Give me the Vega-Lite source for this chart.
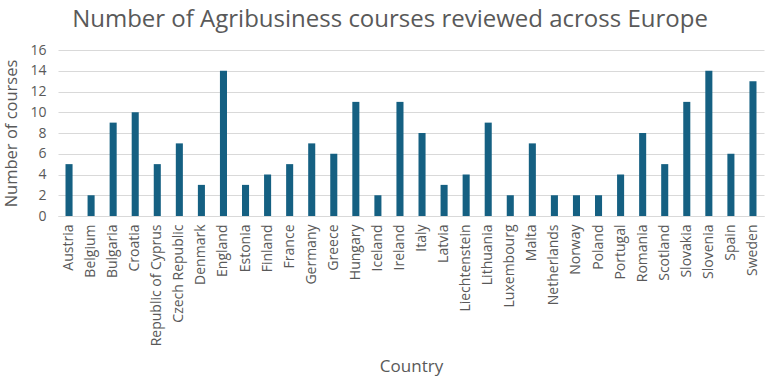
{
  "$schema": "https://vega.github.io/schema/vega-lite/v6.json",
  "width": 706,
  "height": 166,
  "autosize": {"type": "none"},
  "padding": {"left": 58, "top": 50, "right": 3, "bottom": 161},
  "background": "white",
  "title": {
    "text": "Number of Agribusiness courses reviewed across Europe",
    "fontSize": 24,
    "font": "Open Sans",
    "fontWeight": "normal",
    "color": "#595959",
    "anchor": "middle",
    "offset": 11,
    "dx": -21
  },
  "data": {
    "values": [
      {"Country": "Austria", "Courses": 5},
      {"Country": "Belgium", "Courses": 2},
      {"Country": "Bulgaria", "Courses": 9},
      {"Country": "Croatia", "Courses": 10},
      {"Country": "Republic of Cyprus", "Courses": 5},
      {"Country": "Czech Republic", "Courses": 7},
      {"Country": "Denmark", "Courses": 3},
      {"Country": "England", "Courses": 14},
      {"Country": "Estonia", "Courses": 3},
      {"Country": "Finland", "Courses": 4},
      {"Country": "France", "Courses": 5},
      {"Country": "Germany", "Courses": 7},
      {"Country": "Greece", "Courses": 6},
      {"Country": "Hungary", "Courses": 11},
      {"Country": "Iceland", "Courses": 2},
      {"Country": "Ireland", "Courses": 11},
      {"Country": "Italy", "Courses": 8},
      {"Country": "Latvia", "Courses": 3},
      {"Country": "Liechtenstein", "Courses": 4},
      {"Country": "Lithuania", "Courses": 9},
      {"Country": "Luxembourg", "Courses": 2},
      {"Country": "Malta", "Courses": 7},
      {"Country": "Netherlands", "Courses": 2},
      {"Country": "Norway", "Courses": 2},
      {"Country": "Poland", "Courses": 2},
      {"Country": "Portugal", "Courses": 4},
      {"Country": "Romania", "Courses": 8},
      {"Country": "Scotland", "Courses": 5},
      {"Country": "Slovakia", "Courses": 11},
      {"Country": "Slovenia", "Courses": 14},
      {"Country": "Spain", "Courses": 6},
      {"Country": "Sweden", "Courses": 13}
    ]
  },
  "mark": {"type": "bar", "color": "#156082"},
  "encoding": {
    "x": {
      "field": "Country",
      "type": "nominal",
      "sort": null,
      "scale": {"paddingInner": 0.68, "paddingOuter": 0.34},
      "axis": {
        "title": "Country",
        "titleFont": "Open Sans",
        "titleFontSize": 17,
        "titleFontWeight": "normal",
        "titleColor": "#595959",
        "titlePadding": 13,
        "labelAngle": -90,
        "labelFont": "Open Sans",
        "labelFontSize": 14,
        "labelColor": "#595959",
        "labelPadding": 8,
        "ticks": false,
        "domainColor": "#d9d9d9",
        "domainWidth": 1
      }
    },
    "y": {
      "field": "Courses",
      "type": "quantitative",
      "scale": {"domain": [0, 16]},
      "axis": {
        "title": "Number of courses",
        "titleFont": "Open Sans",
        "titleFontSize": 16.5,
        "titleFontWeight": "normal",
        "titleColor": "#595959",
        "titlePadding": 10,
        "values": [0, 2, 4, 6, 8, 10, 12, 14, 16],
        "labelFont": "Open Sans",
        "labelFontSize": 14,
        "labelColor": "#595959",
        "labelPadding": 12,
        "ticks": false,
        "domain": false,
        "gridColor": "#d9d9d9",
        "gridWidth": 1
      }
    }
  },
  "config": {"view": {"stroke": null}}
}
